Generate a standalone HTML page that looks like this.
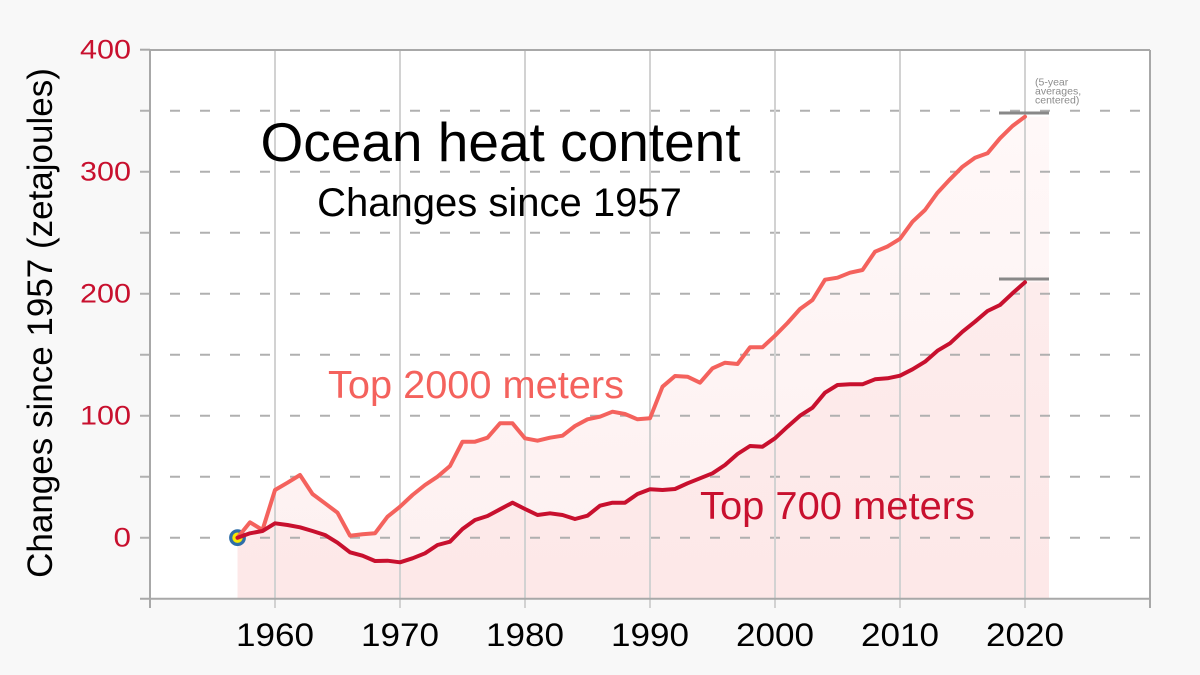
<!DOCTYPE html>
<html>
<head>
<meta charset="utf-8">
<style>
  html,body{margin:0;padding:0;background:#f8f8f8;}
  svg{display:block;}
  text{font-family:"Liberation Sans", Arial, sans-serif;}
</style>
</head>
<body>
<svg width="1200" height="675" viewBox="0 0 1200 675" xmlns="http://www.w3.org/2000/svg">
  <defs>
    <linearGradient id="g2000" gradientUnits="userSpaceOnUse" x1="0" y1="112" x2="0" y2="599">
      <stop offset="0" stop-color="#fff8f8"/>
      <stop offset="1" stop-color="#fdf0f0"/>
    </linearGradient>
    <linearGradient id="g700" gradientUnits="userSpaceOnUse" x1="0" y1="280" x2="0" y2="599">
      <stop offset="0" stop-color="#fdecec"/>
      <stop offset="1" stop-color="#fde8e8"/>
    </linearGradient>
  </defs>

  <rect x="0" y="0" width="1200" height="675" fill="#f8f8f8"/>
  <!-- plot area -->
  <rect x="150" y="50" width="1000" height="549" fill="#ffffff"/>

  <!-- fills -->
  <path fill="url(#g2000)" d="M237.5,537.7 L250,522.3 L262.5,530 L275,490 L287.5,482.7 L300,475 L312.5,494 L325,503.3 L337.5,512.7 L350,535.7 L362.5,534.3 L375,533.3 L387.5,516.7 L400,506.7 L412.5,495 L425,485 L437.5,476.7 L450,466 L462.5,441.7 L475,441.7 L487.5,437.7 L500,423.3 L512.5,423.3 L525,438.3 L537.5,440.7 L550,437.7 L562.5,435.7 L575,426 L587.5,419.3 L600,416.7 L612.5,411.7 L625,414 L637.5,419.3 L650,418.3 L662.5,386.7 L675,376 L687.5,376.7 L700,382.7 L712.5,368.3 L725,362.7 L737.5,364 L750,347.3 L762.5,347.3 L775,335.7 L787.5,323 L800,309 L812.5,300 L825,279.7 L837.5,277.7 L850,272.7 L862.5,270 L875,251.7 L887.5,246.5 L900,238.8 L912.5,221.7 L925,210 L937.5,192.7 L950,179.3 L962.5,166.7 L975,157.7 L987.5,153.3 L1000,138.3 L1012.5,126 L1025,116.7 L1049,116.7 L1049,599 L237.5,599 Z"/>
  <path fill="url(#g700)" d="M237.5,537.7 L250,533.3 L262.5,531 L275,523.3 L287.5,525 L300,527.3 L312.5,531 L325,535 L337.5,542.7 L350,552.3 L362.5,555.7 L375,561 L387.5,560.7 L400,562.3 L412.5,558.3 L425,553.3 L437.5,545 L450,541.7 L462.5,529 L475,520 L487.5,516 L500,509.3 L512.5,502.7 L525,509 L537.5,515 L550,513.3 L562.5,515 L575,519 L587.5,515.7 L600,505.7 L612.5,502.7 L625,502.7 L637.5,494 L650,489.3 L662.5,490 L675,489 L687.5,483.3 L700,478.3 L712.5,473.3 L725,465 L737.5,454 L750,446 L762.5,446.7 L775,438.3 L787.5,426.7 L800,415.7 L812.5,407.7 L825,392.7 L837.5,385 L850,384.3 L862.5,384.3 L875,379.3 L887.5,378.3 L900,375.7 L912.5,369.3 L925,361.7 L937.5,350.7 L950,343.3 L962.5,331.7 L975,321.7 L987.5,311 L1000,305 L1012.5,293.3 L1025,282.3 L1049,282.3 L1049,599 L237.5,599 Z"/>

  <!-- horizontal dashed grid -->
  <g stroke="#b0b0b0" stroke-width="2" stroke-dasharray="10 20">
    <line x1="140" y1="110.7" x2="1150" y2="110.7"/>
    <line x1="140" y1="171.7" x2="1150" y2="171.7"/>
    <line x1="140" y1="232.7" x2="1150" y2="232.7"/>
    <line x1="140" y1="293.7" x2="1150" y2="293.7"/>
    <line x1="140" y1="354.7" x2="1150" y2="354.7"/>
    <line x1="140" y1="415.7" x2="1150" y2="415.7"/>
    <line x1="140" y1="476.7" x2="1150" y2="476.7"/>
    <line x1="140" y1="537.7" x2="1150" y2="537.7"/>
  </g>

  <!-- vertical grid -->
  <g stroke="#d2d2d2" stroke-width="2">
    <line x1="275" y1="50" x2="275" y2="608"/>
    <line x1="400" y1="50" x2="400" y2="608"/>
    <line x1="525" y1="50" x2="525" y2="608"/>
    <line x1="650" y1="50" x2="650" y2="608"/>
    <line x1="775" y1="50" x2="775" y2="608"/>
    <line x1="900" y1="50" x2="900" y2="608"/>
    <line x1="1025" y1="50" x2="1025" y2="608"/>
  </g>

  <!-- axes / border -->
  <g stroke="#a8a8a8" stroke-width="2" fill="none">
    <line x1="150" y1="50" x2="1150" y2="50"/>
    <line x1="1150" y1="50" x2="1150" y2="608"/>
    <line x1="150" y1="49" x2="150" y2="608"/>
    <line x1="140" y1="598.7" x2="1150" y2="598.7"/>
    <line x1="140" y1="49.7" x2="150" y2="49.7"/>
  </g>

  <!-- 5-year average bars -->
  <g stroke="#888888" stroke-width="3">
    <line x1="999" y1="113" x2="1049" y2="113"/>
    <line x1="999" y1="279" x2="1049" y2="279"/>
  </g>
  <g fill="#8c8c8c" font-size="10.5">
    <text x="1035" y="85.5">(5-year</text>
    <text x="1035" y="94.5">averages,</text>
    <text x="1035" y="103.5">centered)</text>
  </g>

  <!-- start marker -->
  <circle cx="237.5" cy="537.7" r="6.8" fill="#f5e800" stroke="#2f6ea8" stroke-width="3.2"/>

  <!-- series lines -->
  <path fill="none" stroke="#f4625d" stroke-width="4" stroke-linejoin="round" stroke-linecap="round" d="M237.5,537.7 L250,522.3 L262.5,530 L275,490 L287.5,482.7 L300,475 L312.5,494 L325,503.3 L337.5,512.7 L350,535.7 L362.5,534.3 L375,533.3 L387.5,516.7 L400,506.7 L412.5,495 L425,485 L437.5,476.7 L450,466 L462.5,441.7 L475,441.7 L487.5,437.7 L500,423.3 L512.5,423.3 L525,438.3 L537.5,440.7 L550,437.7 L562.5,435.7 L575,426 L587.5,419.3 L600,416.7 L612.5,411.7 L625,414 L637.5,419.3 L650,418.3 L662.5,386.7 L675,376 L687.5,376.7 L700,382.7 L712.5,368.3 L725,362.7 L737.5,364 L750,347.3 L762.5,347.3 L775,335.7 L787.5,323 L800,309 L812.5,300 L825,279.7 L837.5,277.7 L850,272.7 L862.5,270 L875,251.7 L887.5,246.5 L900,238.8 L912.5,221.7 L925,210 L937.5,192.7 L950,179.3 L962.5,166.7 L975,157.7 L987.5,153.3 L1000,138.3 L1012.5,126 L1025,116.7"/>
  <path fill="none" stroke="#c8102e" stroke-width="4" stroke-linejoin="round" stroke-linecap="round" d="M237.5,537.7 L250,533.3 L262.5,531 L275,523.3 L287.5,525 L300,527.3 L312.5,531 L325,535 L337.5,542.7 L350,552.3 L362.5,555.7 L375,561 L387.5,560.7 L400,562.3 L412.5,558.3 L425,553.3 L437.5,545 L450,541.7 L462.5,529 L475,520 L487.5,516 L500,509.3 L512.5,502.7 L525,509 L537.5,515 L550,513.3 L562.5,515 L575,519 L587.5,515.7 L600,505.7 L612.5,502.7 L625,502.7 L637.5,494 L650,489.3 L662.5,490 L675,489 L687.5,483.3 L700,478.3 L712.5,473.3 L725,465 L737.5,454 L750,446 L762.5,446.7 L775,438.3 L787.5,426.7 L800,415.7 L812.5,407.7 L825,392.7 L837.5,385 L850,384.3 L862.5,384.3 L875,379.3 L887.5,378.3 L900,375.7 L912.5,369.3 L925,361.7 L937.5,350.7 L950,343.3 L962.5,331.7 L975,321.7 L987.5,311 L1000,305 L1012.5,293.3 L1025,282.3"/>

  <!-- titles -->
  <text x="500.5" y="161" font-size="55" text-anchor="middle" fill="#000">Ocean heat content</text>
  <text x="499.5" y="216" font-size="40" text-anchor="middle" fill="#000">Changes since 1957</text>

  <!-- series labels -->
  <text x="328" y="398" font-size="38.5" fill="#f4625d" textLength="296" lengthAdjust="spacingAndGlyphs">Top 2000 meters</text>
  <text x="700" y="519" font-size="38.5" fill="#c8102e" textLength="275" lengthAdjust="spacingAndGlyphs">Top 700 meters</text>

  <!-- y axis title -->
  <text transform="translate(52,323) rotate(-90)" font-size="35" text-anchor="middle" fill="#000">Changes since 1957 (zetajoules)</text>

  <!-- y tick labels -->
  <g fill="#c8102e" font-size="26.5" text-anchor="end">
    <text x="131" y="58.7" textLength="51" lengthAdjust="spacingAndGlyphs">400</text>
    <text x="131" y="180.7" textLength="51" lengthAdjust="spacingAndGlyphs">300</text>
    <text x="131" y="302.7" textLength="51" lengthAdjust="spacingAndGlyphs">200</text>
    <text x="131" y="424.7" textLength="51" lengthAdjust="spacingAndGlyphs">100</text>
    <text x="131" y="546.7" textLength="17.5" lengthAdjust="spacingAndGlyphs">0</text>
  </g>

  <!-- x tick labels -->
  <g fill="#000" font-size="32.5" text-anchor="middle">
    <text x="275" y="646" textLength="78" lengthAdjust="spacingAndGlyphs">1960</text>
    <text x="400" y="646" textLength="78" lengthAdjust="spacingAndGlyphs">1970</text>
    <text x="525" y="646" textLength="78" lengthAdjust="spacingAndGlyphs">1980</text>
    <text x="650" y="646" textLength="78" lengthAdjust="spacingAndGlyphs">1990</text>
    <text x="775" y="646" textLength="78" lengthAdjust="spacingAndGlyphs">2000</text>
    <text x="900" y="646" textLength="78" lengthAdjust="spacingAndGlyphs">2010</text>
    <text x="1025" y="646" textLength="78" lengthAdjust="spacingAndGlyphs">2020</text>
  </g>
</svg>
</body>
</html>
